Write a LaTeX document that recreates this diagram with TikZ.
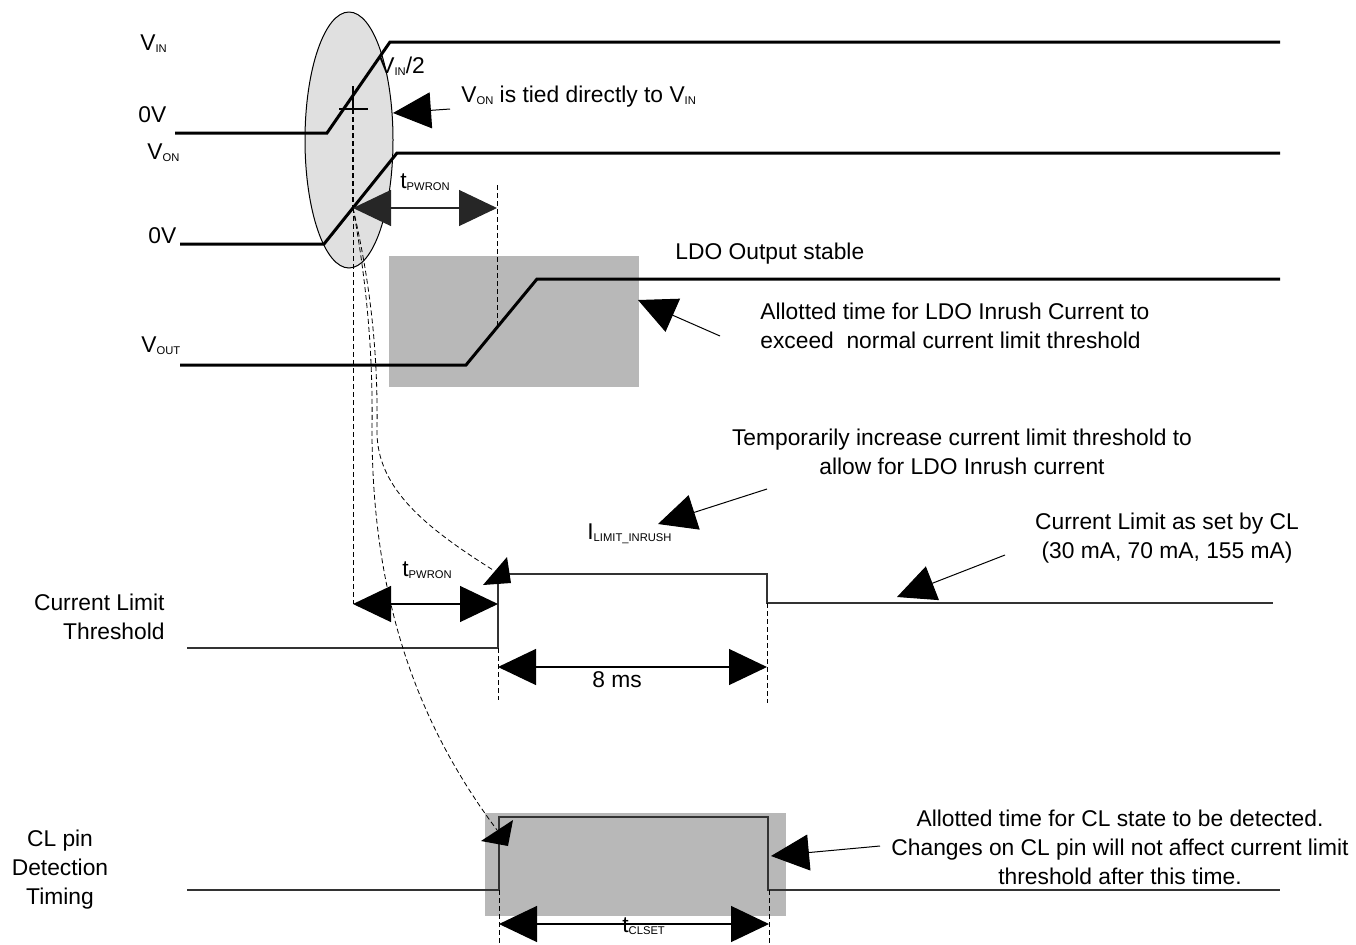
\documentclass[tikz,border=0pt]{standalone}
\usepackage{fontspec}
\setmainfont{Liberation Sans}
\usetikzlibrary{arrows.meta}
\newcommand{\sbs}[1]{\raisebox{-1pt}{\fontsize{5.6}{6}\selectfont #1}}

\begin{document}
\begin{tikzpicture}[x=0.5pt,y=-0.5pt,>={Triangle[length=19pt,width=18pt]},
  font=\fontsize{11.4}{14.5}\selectfont,
  every node/.style={inner sep=0pt},
  sig/.style={line width=1.5pt},
  thinsig/.style={line width=0.7pt,black!80},
  guide/.style={dash pattern=on 2.5pt off 1.5pt,line width=0.45pt},
  dim/.style={<->,line width=0.6pt},
  note/.style={->,line width=0.5pt},
  shade/.style={fill=black!28}]
  \useasboundingbox (0,0) rectangle (1356,944);

  % 上电区域
  \draw[fill=black!12,line width=0.5pt] (349,140) ellipse (22pt and 64pt);
  \fill[shade] (389,256) rectangle (639,387);
  \fill[shade] (485,813) rectangle (786,916);

  \coordinate (tick) at (353,109);
  \coordinate (von) at (353,208);
  \coordinate (ilim) at (493,570);
  \coordinate (clset) at (497,830);

  % 信号
  \draw[sig] (175,133) -- (327,133) -- (390,42) -- (1280,42);
  \draw[sig] (180,244) -- (324,244) -- (397,153) -- (1280,153);
  \draw[sig] (180,365) -- (466,365) -- (537,279) -- (1280,279);
  \draw[thinsig] (187,648) -- (498,648) -- (498,574) -- (767,574) -- (767,603) -- (1273,603);
  \draw[thinsig] (187,890) -- (499,890) -- (499,817) -- (768,817) -- (768,890) -- (1280,890);

  % VIN/2
  \draw[line width=1pt] (353,86) -- (tick);
  \draw[line width=1pt] (339,109) -- (368,109);
  \draw[guide,line width=0.8pt] (tick) -- (von);
  \draw[guide] (von) -- (353,604);

  % 虚线
  \draw[guide] (497,185) -- (497,328);
  \draw[guide] (498,648) -- (498,700);
  \draw[guide] (767,603) -- (767,703);
  \draw[guide] (499,890) -- (499,944);
  \draw[guide] (769,890) -- (769,944);

  % 曲线
  \draw[guide,line width=0.4pt] (von) .. controls (372,290) and (378,360) .. (377,430)
    .. controls (376,490) and (430,530) .. (ilim);
  \draw[guide,line width=0.4pt] (von) .. controls (368,290) and (373,360) .. (372,430)
    .. controls (372,620) and (430,740) .. (clset);
  \fill (483,585) -- (507,557) -- (511,583) -- cycle;
  \fill (481,841) -- (513,820) -- (508,846) -- cycle;

  % 时间
  \draw[dim,black!85] (von) -- (497,208);
  \draw[dim] (353,604) -- (498,604);
  \draw[dim] (498,667) -- (767,667);
  \draw[dim] (499,924) -- (769,924);

  % 箭头
  \coordinate (tie) at (450,109);
  \coordinate (ldo) at (720,336);
  \coordinate (inr) at (767,489);
  \coordinate (cur) at (1005,555);
  \coordinate (det) at (880,846);
  \draw[note] (tie) -- (393,113);
  \draw[note] (ldo) -- (638,300);
  \draw[note] (inr) -- (658,524);
  \draw[note] (cur) -- (897,597);
  \draw[note] (det) -- (771,856);

  \node[anchor=base west] (vin) at (140,50) {V\sbs{IN}};
  \node[anchor=base west] (zero1) at (138,122) {0V};
  \node[anchor=base west] (vonl) at (147,159) {V\sbs{ON}};
  \node[anchor=base west] (zero2) at (148,243) {0V};
  \node[anchor=base west] (vout) at (141,352) {V\sbs{OUT}};
  \node[anchor=base west] (half) at (379,73) {V\sbs{IN}/2};
  \node[anchor=base west] (tietxt) at (461,102) {V\sbs{ON} is tied directly to V\sbs{IN}};
  \node[anchor=base west] (tp1) at (400,188) {t\sbs{PWRON}};
  \node[anchor=base west] (stable) at (675,259) {LDO Output stable};
  \node[anchor=west,align=left] (ldotxt) at (760,326)
    {Allotted time for LDO Inrush Current to\\exceed\ \ normal current limit threshold};
  \node[align=center] (inrtxt) at (962,452)
    {Temporarily increase current limit threshold to\\allow for LDO Inrush current};
  \node[anchor=base west] (ilimtxt) at (587,539) {I\sbs{LIMIT\_INRUSH}};
  \node[align=center] (curtxt) at (1167,538) {Current Limit as set by CL\\(30 mA, 70 mA, 155 mA)};
  \node[anchor=base west] (tp2) at (402,576) {t\sbs{PWRON}};
  \node[anchor=base west] (ms) at (592,687) {8 ms};
  \node[anchor=east,align=right] (clthr) at (165,617) {Current Limit\\Threshold};
  \node[align=center] (clpin) at (60,870) {CL pin\\Detection\\Timing};
  \node[align=center] (dettxt) at (1120,847)
    {Allotted time for CL state to be detected.\\Changes on CL pin will not affect current limit\\threshold after this time.};
  \node[anchor=base west] (tcl) at (622,932) {t\sbs{CLSET}};
\end{tikzpicture}
\end{document}
